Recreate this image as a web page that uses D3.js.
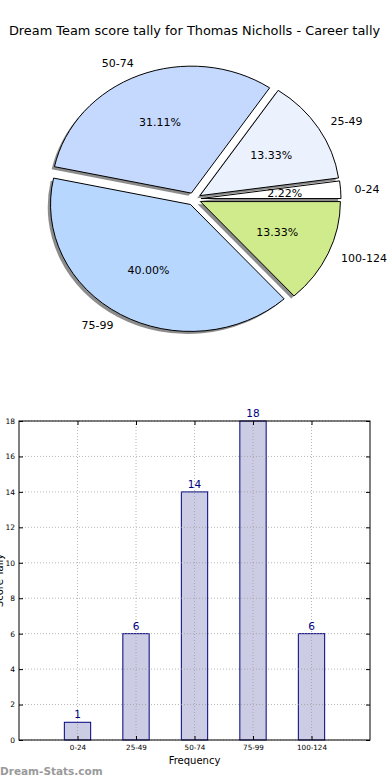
<!DOCTYPE html>
<html><head><meta charset="utf-8">
<script src="https://cdn.jsdelivr.net/npm/d3@7"></script>
<style>body{margin:0;background:#fff}svg{display:block;font-family:"DejaVu Sans",sans-serif}</style>
</head><body>
<script>
const title = "Dream Team score tally for Thomas Nicholls - Career tally";
const categories = ["0-24","25-49","50-74","75-99","100-124"];
const counts = [1,6,14,18,6];
const sliceColors = ["#ffffff","#ebf2fe","#c5d9fe","#b8d7fe","#d0eb8c"];
const yTicks = [0,2,4,6,8,10,12,14,16,18];
const xLabel = "Frequency";
const yLabel = "Score Tally";
const watermark = "Dream-Stats.com";

const W=390,H=780;
const svg=d3.select("body").append("svg").attr("width",W).attr("height",H);

svg.append("text").attr("x",194.5).attr("y",35).attr("text-anchor","middle")
  .attr("font-size",12.9).attr("fill","#000").text(title);

// ---- Pie ----
const cx=194, cy=199, rx=140, ry=127, explode=0.05;
const total=d3.sum(counts);
const pie=d3.pie().sort(null).startAngle(Math.PI/2).endAngle(Math.PI/2-2*Math.PI);
const arcs=pie(counts);
const arcGen=d3.arc().innerRadius(0).outerRadius(1);
const g=svg.append("g");
function off(d,k){const a=(d.startAngle+d.endAngle)/2;return [Math.sin(a)*k*rx, -Math.cos(a)*k*ry];}
// shadows
arcs.forEach((d,i)=>{
  const [ox,oy]=off(d,explode);
  g.append("path").attr("d",arcGen(d))
   .attr("transform",`translate(${cx+ox-2.8},${cy+oy+2.6}) scale(${rx},${ry})`)
   .attr("fill","#000").attr("fill-opacity",0.45);
});
arcs.forEach((d,i)=>{
  const [ox,oy]=off(d,explode);
  g.append("path").attr("d",arcGen(d))
   .attr("transform",`translate(${cx+ox},${cy+oy}) scale(${rx},${ry})`)
   .attr("fill",sliceColors[i]).attr("stroke","#000").attr("stroke-width",1)
   .attr("vector-effect","non-scaling-stroke");
});
arcs.forEach((d,i)=>{
  const a=(d.startAngle+d.endAngle)/2;
  const [lx,ly]=off(d,1.15);
  g.append("text").attr("x",cx+lx).attr("y",cy+ly).attr("dy","0.35em")
   .attr("text-anchor",Math.sin(a)>=0?"start":"end").attr("font-size",11).text(categories[i]);
  const [px,py]=off(d,0.65);
  g.append("text").attr("x",cx+px).attr("y",cy+py).attr("dy","0.35em")
   .attr("text-anchor","middle").attr("font-size",11).text((counts[i]/total*100).toFixed(2)+"%");
});

// ---- Bars ----
const L=19,R=370,T=421,B=740;
const x=d3.scaleLinear().domain([-1,5]).range([L,R]);
const y=d3.scaleLinear().domain([0,18]).range([B,T]);
const bw=0.45;
const bg=svg.append("g");
bg.selectAll("rect.bar").data(counts).join("rect").attr("class","bar")
  .attr("x",(d,i)=>x(i-bw/2)).attr("width",x(bw)-x(0))
  .attr("y",d=>y(d)).attr("height",d=>y(0)-y(d))
  .attr("fill","#ccccE4").attr("stroke","#000080").attr("stroke-width",1);
// grid
bg.selectAll("line.hg").data(yTicks).join("line").attr("class","hg")
  .attr("x1",L).attr("x2",R).attr("y1",d=>y(d)).attr("y2",d=>y(d))
  .attr("stroke","#999").attr("stroke-opacity",0.7).attr("stroke-dasharray","1,2");
bg.selectAll("line.vg").data(categories).join("line").attr("class","vg")
  .attr("x1",(d,i)=>x(i)).attr("x2",(d,i)=>x(i)).attr("y1",T).attr("y2",B)
  .attr("stroke","#999").attr("stroke-opacity",0.7).attr("stroke-dasharray","1,2");
// axes
const yAx=d3.axisLeft(y).tickValues(yTicks).tickSize(-4).tickPadding(4);
const ya=bg.append("g").attr("transform",`translate(${L},0)`).call(yAx);
ya.select(".domain").remove();
ya.selectAll("text").attr("font-size",7.5).attr("font-family","DejaVu Sans");
const yAr=d3.axisRight(y).tickValues(yTicks).tickSize(-4).tickFormat("");
bg.append("g").attr("transform",`translate(${R},0)`).call(yAr).select(".domain").remove();
const xAx=d3.axisBottom(x).tickValues(d3.range(categories.length)).tickFormat(i=>categories[i]).tickSize(-4).tickPadding(5);
const xa=bg.append("g").attr("transform",`translate(0,${B})`).call(xAx);
xa.select(".domain").remove();
xa.selectAll("text").attr("font-size",7.2).attr("font-family","DejaVu Sans");
const xAt=d3.axisTop(x).tickValues(d3.range(categories.length)).tickFormat("").tickSize(-4);
bg.append("g").attr("transform",`translate(0,${T})`).call(xAt).select(".domain").remove();
bg.append("rect").attr("x",L).attr("y",T).attr("width",R-L).attr("height",B-T)
  .attr("fill","none").attr("stroke","#000").attr("stroke-width",1);
// value labels
bg.selectAll("text.val").data(counts).join("text").attr("class","val")
  .attr("x",(d,i)=>x(i)).attr("y",d=>y(d)-4).attr("text-anchor","middle")
  .attr("font-size",10.5).attr("fill","#000080").text(d=>d);
svg.append("text").attr("x",(L+R)/2).attr("y",764).attr("text-anchor","middle")
  .attr("font-size",10).text(xLabel);
svg.append("text").attr("transform",`translate(3,${(T+B)/2}) rotate(-90)`)
  .attr("text-anchor","middle").attr("font-size",10).text(yLabel);
svg.append("text").attr("x",0).attr("y",775).attr("font-size",10.5).attr("font-weight","bold")
  .attr("fill","#9a9a9a").text(watermark);
</script>
</body></html>
